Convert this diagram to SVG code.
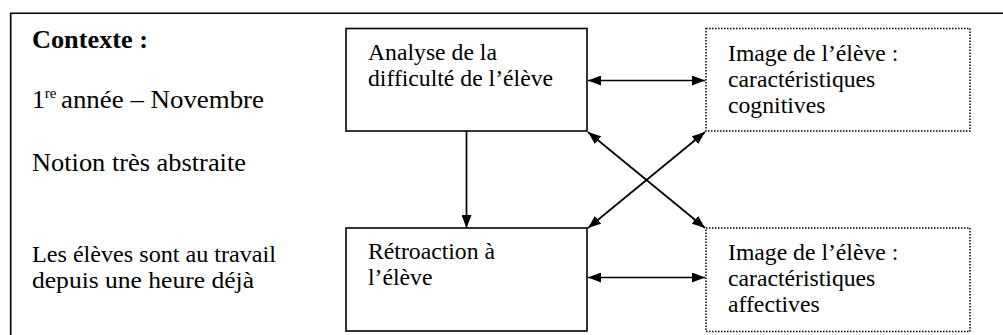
<svg xmlns="http://www.w3.org/2000/svg" width="1003" height="335" viewBox="0 0 1003 335">
<defs>
<style>
text{font-family:"Liberation Serif","Tinos","Times New Roman","DejaVu Serif",serif;fill:#000}
.l{font-size:25.7px}
.s{font-size:23.5px}
.b{font-size:23.7px}
.solid{fill:none;stroke:#000;stroke-width:1.6}
.dot{fill:none;stroke:#000;stroke-width:1.5;stroke-dasharray:1.5 1.5}
.c{fill:none;stroke:#000;stroke-width:1.7}
</style>
<marker id="ah" viewBox="0 0 13 10" refX="13" refY="5" markerWidth="13" markerHeight="10" markerUnits="userSpaceOnUse" orient="auto-start-reverse">
<path d="M0,0 L13,5 L0,10 z" fill="#000"/>
</marker>
</defs>
<rect width="1003" height="335" fill="#fff"/>
<g id="frame">
<path class="solid" d="M10.7,335 V13.3 H1003"/>
</g>
<g id="context">
<text class="l" x="32" y="48" font-weight="bold" textLength="116" lengthAdjust="spacingAndGlyphs">Contexte :</text>
<text class="l" x="32" y="108">1<tspan font-size="15" dy="-10">re</tspan><tspan x="61" dy="10" textLength="203" lengthAdjust="spacingAndGlyphs">année – Novembre</tspan></text>
<text class="l" x="32" y="171" textLength="214" lengthAdjust="spacingAndGlyphs">Notion très abstraite</text>
<text class="s" x="32" y="262" textLength="244" lengthAdjust="spacingAndGlyphs">Les élèves sont au travail</text>
<text class="s" x="32" y="288" textLength="222" lengthAdjust="spacingAndGlyphs">depuis une heure déjà</text>
</g>
<g id="analyse">
<rect class="solid" x="346" y="28.5" width="241" height="102.5"/>
<text class="b" x="368" y="60">Analyse de la</text>
<text class="b" x="368" y="86">difficulté de l’élève</text>
</g>
<g id="retroaction">
<rect class="solid" x="346" y="228" width="241" height="103"/>
<text class="b" x="368" y="259">Rétroaction à</text>
<text class="b" x="368" y="285">l’élève</text>
</g>
<g id="cognitives">
<rect class="dot" x="706" y="28.5" width="264" height="102.5"/>
<text class="b" x="728" y="61">Image de l’élève :</text>
<text class="b" x="728" y="87">caractéristiques</text>
<text class="b" x="728" y="113">cognitives</text>
</g>
<g id="affectives">
<rect class="dot" x="706" y="228" width="264" height="103.5"/>
<text class="b" x="728" y="260">Image de l’élève :</text>
<text class="b" x="728" y="286">caractéristiques</text>
<text class="b" x="728" y="312">affectives</text>
</g>
<g id="connectors">
<line class="c" x1="588" y1="80.5" x2="705" y2="80.5" marker-start="url(#ah)" marker-end="url(#ah)"/>
<line class="c" x1="588" y1="277.5" x2="705" y2="277.5" marker-start="url(#ah)" marker-end="url(#ah)"/>
<line class="c" x1="466.5" y1="131" x2="466.5" y2="228" marker-end="url(#ah)"/>
<line class="c" x1="588" y1="132" x2="705" y2="228" marker-start="url(#ah)" marker-end="url(#ah)"/>
<line class="c" x1="705" y1="132" x2="588" y2="228" marker-start="url(#ah)" marker-end="url(#ah)"/>
</g>
</svg>
